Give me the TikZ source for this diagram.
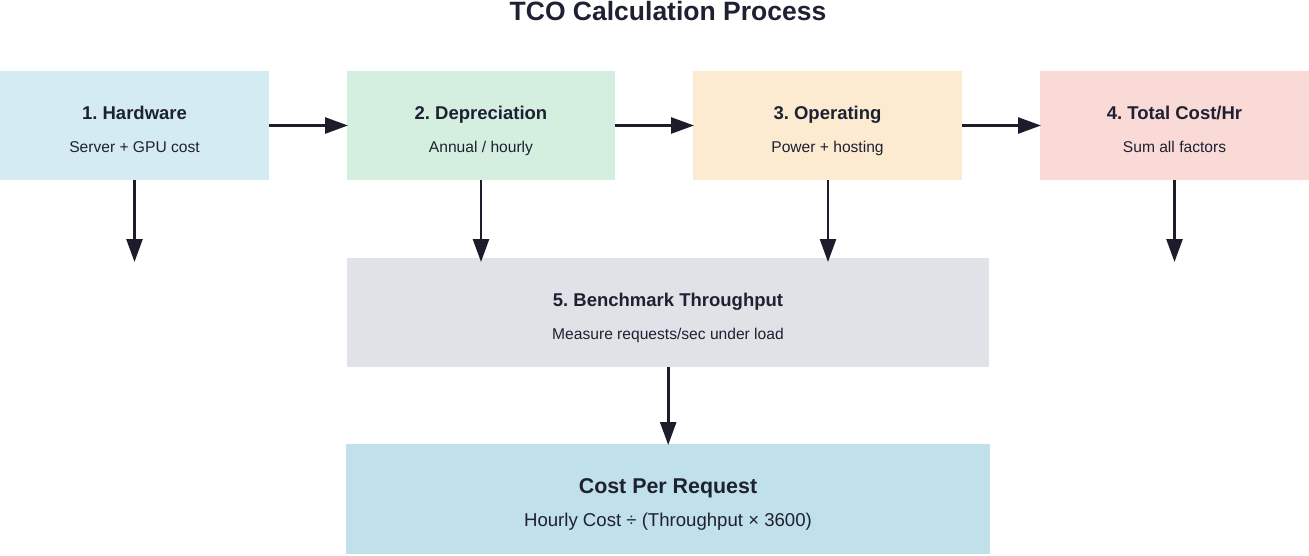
\documentclass[tikz,border=0pt]{standalone}
\usepackage{fontspec}
\setmainfont{Liberation Sans}
\usetikzlibrary{arrows.meta}
\definecolor{txt}{HTML}{1E2132}
\definecolor{arr}{HTML}{1C1C2B}
\definecolor{cA}{HTML}{D5EBF2}
\definecolor{cB}{HTML}{D4EEE0}
\definecolor{cC}{HTML}{FCEBD0}
\definecolor{cD}{HTML}{FADAD7}
\definecolor{cE}{HTML}{E1E2E7}
\definecolor{cF}{HTML}{C0E1EA}
\tikzset{
  box/.style={draw=none, anchor=north west, inner sep=0pt},
  ttl/.style={text=txt, font=\frenchspacing\bfseries\fontsize{18.5}{20}\selectfont, inner sep=0pt, anchor=base},
  sub/.style={text=txt, font=\frenchspacing\fontsize{15.6}{17}\selectfont, inner sep=0pt, anchor=base},
  conn/.style={draw=arr, line width=2.6pt, -{Triangle[length=23pt,width=16pt]}, shorten >=-1pt}
}
\begin{document}
\begin{tikzpicture}[x=1pt,y=-1pt]
\useasboundingbox (0,0) rectangle (1309,555);
\node[text=txt, font=\bfseries\fontsize{26.5}{28}\selectfont, inner sep=0pt, anchor=base] (title) at (668,20.5) {TCO Calculation Process};
% boxes
\node[box, fill=cA, minimum width=269pt, minimum height=109pt] (b1) at (0,71) {};
\node[box, fill=cB, minimum width=268pt, minimum height=109pt] (b2) at (347,71) {};
\node[box, fill=cC, minimum width=269pt, minimum height=109pt] (b3) at (693,71) {};
\node[box, fill=cD, minimum width=269pt, minimum height=109pt] (b4) at (1040,71) {};
\node[box, fill=cE, minimum width=642pt, minimum height=109pt] (b5) at (347,258) {};
\node[box, fill=cF, minimum width=644pt, minimum height=110pt] (b6) at (346,444) {};
% texts
\node[ttl] (t1) at (134.5,119.5) {1. Hardware};
\node[sub] (s1) at (134.5,152.7) {Server + GPU cost};
\node[ttl] (t2) at (481,119.5) {2. Depreciation};
\node[sub] (s2) at (481,152.7) {Annual / hourly};
\node[ttl] (t3) at (827.5,119.5) {3. Operating};
\node[sub] (s3) at (827.5,152.7) {Power + hosting};
\node[ttl] (t4) at (1174.5,119.5) {4. Total Cost/Hr};
\node[sub] (s4) at (1174.5,152.7) {Sum all factors};
\node[ttl] (t5) at (668,306.5) {5. Benchmark Throughput};
\node[sub] (s5) at (668,339.7) {Measure requests/sec under load};
\node[ttl, font=\frenchspacing\bfseries\fontsize{21.4}{23}\selectfont] (t6) at (668,493.5) {Cost Per Request};
\node[sub, font=\frenchspacing\fontsize{18.6}{20}\selectfont] (s6) at (668,526.7) {Hourly Cost ÷ (Throughput × 3600)};
% free ends
\coordinate (e1) at (134.5,261);
\coordinate (e2) at (481,261);
\coordinate (e3) at (828,261);
\coordinate (e4) at (1174.5,261);
% connectors
\draw[conn] (b1.east |- 0,125.5) -- (b2.west |- 0,125.5);
\draw[conn] (b2.east |- 0,125.5) -- (b3.west |- 0,125.5);
\draw[conn] (b3.east |- 0,125.5) -- (b4.west |- 0,125.5);
\draw[conn] (b1.south -| e1) -- (e1);
\draw[conn] (b2.south -| e2) -- (e2);
\draw[conn] (b3.south -| e3) -- (e3);
\draw[conn] (b4.south -| e4) -- (e4);
\draw[conn] (b5.south) -- (b6.north);
\end{tikzpicture}
\end{document}
